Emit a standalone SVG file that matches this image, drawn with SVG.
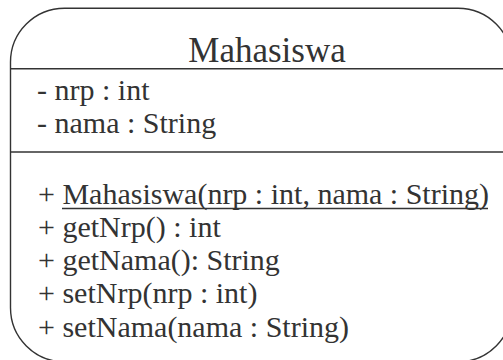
<svg xmlns="http://www.w3.org/2000/svg" width="503" height="360" viewBox="0 0 503 360">
<style>
.box{fill:#fff;stroke:#333;stroke-width:1.4}
.div{stroke:#333;stroke-width:1.4}
.txt{font-family:'Liberation Serif','Times New Roman',Times,serif;fill:#333}
.t{font-size:35px}
.b{font-size:30px}
</style>
<rect width="503" height="360" fill="#fff"/>
<g id="class-Mahasiswa">
<rect class="box" x="10.5" y="8.3" width="501.5" height="353.5" rx="54" ry="54"/>
<line class="div" x1="10.5" y1="68.7" x2="512" y2="68.7"/>
<line class="div" x1="10.5" y1="152" x2="512" y2="152"/>
<g class="txt">
<text class="t" x="267" y="62" text-anchor="middle">Mahasiswa</text>
<text class="b" x="37" y="100">- nrp : int</text>
<text class="b" x="37" y="133">- nama : String</text>
<text class="b" x="38" y="204">+ Mahasiswa(nrp : int, nama : String)</text>
<text class="b" x="38" y="237">+ getNrp() : int</text>
<text class="b" x="38" y="270">+ getNama(): String</text>
<text class="b" x="38" y="303">+ setNrp(nrp : int)</text>
<text class="b" x="38" y="337">+ setNama(nama : String)</text>
</g>
<line class="div" x1="62" y1="208.5" x2="488" y2="208.5"/>
</g>
<g id="connectors"/>
</svg>
